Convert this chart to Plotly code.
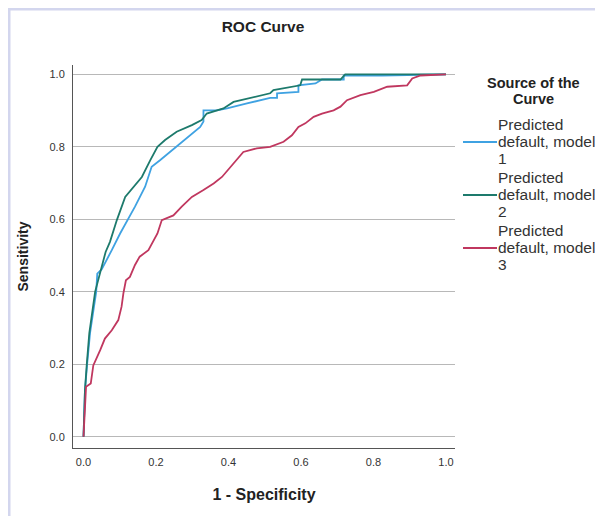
import plotly.graph_objects as go

# ROC data (1 - specificity, sensitivity)
model1_fpr = [0, 0.004, 0.01, 0.018, 0.035, 0.038, 0.05, 0.064, 0.078, 0.101,
              0.142, 0.17, 0.188, 0.211, 0.239, 0.257, 0.28, 0.308, 0.322, 0.331,
              0.331, 0.368, 0.396, 0.451, 0.515, 0.534, 0.534, 0.593, 0.593, 0.64,
              0.658, 0.718, 0.718, 0.824, 1.0]
model1_tpr = [0, 0.128, 0.2, 0.286, 0.4, 0.45, 0.462, 0.488, 0.515, 0.561,
              0.635, 0.69, 0.745, 0.763, 0.786, 0.8, 0.819, 0.842, 0.855, 0.87,
              0.901, 0.901, 0.906, 0.92, 0.935, 0.935, 0.948, 0.952, 0.97, 0.975,
              0.986, 0.986, 0.997, 0.997, 1.0]

model2_fpr = [0, 0.004, 0.009, 0.016, 0.032, 0.047, 0.061, 0.073, 0.092, 0.115,
              0.138, 0.161, 0.184, 0.204, 0.225, 0.257, 0.299, 0.326, 0.34, 0.386,
              0.414, 0.469, 0.515, 0.524, 0.598, 0.603, 0.709, 0.722, 1.0]
model2_tpr = [0, 0.128, 0.2, 0.286, 0.4, 0.455, 0.51, 0.538, 0.598, 0.662,
              0.69, 0.717, 0.763, 0.8, 0.819, 0.842, 0.86, 0.874, 0.892, 0.906,
              0.924, 0.938, 0.948, 0.957, 0.97, 0.986, 0.986, 1.0, 1.0]

model3_fpr = [0, 0.007, 0.02, 0.027, 0.046, 0.059, 0.078, 0.096, 0.105, 0.11,
              0.117, 0.128, 0.142, 0.155, 0.179, 0.184, 0.204, 0.216, 0.248, 0.271,
              0.299, 0.331, 0.359, 0.382, 0.405, 0.428, 0.441, 0.478, 0.515, 0.552,
              0.575, 0.593, 0.612, 0.635, 0.658, 0.69, 0.709, 0.727, 0.764, 0.801,
              0.838, 0.893, 0.907, 0.93, 0.994, 1.0]
model3_tpr = [0, 0.138, 0.147, 0.197, 0.239, 0.271, 0.294, 0.322, 0.359, 0.396,
              0.432, 0.441, 0.474, 0.497, 0.515, 0.524, 0.561, 0.598, 0.611, 0.635,
              0.662, 0.681, 0.699, 0.717, 0.745, 0.773, 0.786, 0.796, 0.8, 0.814,
              0.832, 0.855, 0.865, 0.883, 0.892, 0.901, 0.911, 0.929, 0.943, 0.952,
              0.966, 0.97, 0.989, 0.997, 1.0, 1.0]

series_names = ["Predicted default, model 1",
                "Predicted default, model 2",
                "Predicted default, model 3"]
legend_lines = [["Predicted", "default, model", "1"],
                ["Predicted", "default, model", "2"],
                ["Predicted", "default, model", "3"]]
legend_title_lines = ["Source of the", "Curve"]
series_colors = ["#3fa2e2", "#1d7a6c", "#c0375f"]
tick_vals = [0.0, 0.2, 0.4, 0.6, 0.8, 1.0]
tick_text = ["0.0", "0.2", "0.4", "0.6", "0.8", "1.0"]

FONT = "Liberation Sans, Arial, sans-serif"

fig = go.Figure()
for xs, ys, name, col in zip([model1_fpr, model2_fpr, model3_fpr],
                             [model1_tpr, model2_tpr, model3_tpr],
                             series_names, series_colors):
    fig.add_trace(go.Scatter(x=xs, y=ys, mode="lines", name=name,
                             showlegend=False,
                             line=dict(color=col, width=1.8)))

# the page body has an 8px margin, so layout is computed in page pixels minus 8
OFF = 8
W, H = 603 - OFF, 516 - OFF
PL, PR, PT, PB = 73, 455, 65, 448          # plot area in page pixels
L, R, T, B = PL - OFF, W - (PR - OFF), PT - OFF, H - (PB - OFF)
pw, ph = W - L - R, H - T - B

def px_x(p):
    return (p - OFF - L) / pw

def px_y(p):
    return (H - B - (p - OFF)) / ph

shapes = [
    dict(type="rect", xref="paper", yref="paper",
         x0=px_x(OFF), x1=px_x(OFF + 2.5), y0=px_y(520), y1=px_y(OFF),
         fillcolor="#d3d6ee", line=dict(width=0), layer="below"),
    dict(type="rect", xref="paper", yref="paper",
         x0=px_x(OFF), x1=px_x(610), y0=px_y(OFF + 2.5), y1=px_y(OFF),
         fillcolor="#d3d6ee", line=dict(width=0), layer="below"),
]

annotations = []
# legend (drawn manually to reproduce the tight line spacing)
for i, t in enumerate(legend_title_lines):
    annotations.append(dict(xref="paper", yref="paper", x=px_x(533), y=px_y(83.5 + 15 * i),
                            xanchor="center", yanchor="middle", showarrow=False,
                            text="<b>%s</b>" % t,
                            font=dict(size=14.5, family=FONT, color="#222222")))
item_top = [124, 177, 230]
for k, lines in enumerate(legend_lines):
    for j, t in enumerate(lines):
        annotations.append(dict(xref="paper", yref="paper", x=px_x(496),
                                y=px_y(item_top[k] + 17 * j),
                                xanchor="left", yanchor="middle", showarrow=False,
                                text=t, font=dict(size=15.5, family=FONT, color="#333333")))
    ly = px_y(item_top[k] + 18)
    shapes.append(dict(type="line", xref="paper", yref="paper",
                       x0=px_x(463), x1=px_x(497), y0=ly, y1=ly,
                       line=dict(color=series_colors[k], width=1.8)))

fig.update_layout(
    width=W, height=H,
    margin=dict(l=L, r=R, t=T, b=B, autoexpand=False),
    paper_bgcolor="white", plot_bgcolor="white",
    font=dict(family=FONT, color="#222222", size=12),
    title=dict(text="<b>ROC Curve</b>", xref="container", x=(263 - OFF) / W, xanchor="center",
               yref="container", y=1 - (27 - OFF) / H, yanchor="middle",
               font=dict(size=15.5, family=FONT, color="#222222")),
    xaxis=dict(range=[-0.029, 1.025], tickvals=tick_vals, ticktext=tick_text,
               showgrid=False, zeroline=False, showline=True, automargin=False,
               linecolor="#555555", linewidth=1, ticks="", ticklabelstandoff=4,
               tickfont=dict(size=11, color="#333333"),
               title=dict(text="<b>1 - Specificity</b>", standoff=21,
                          font=dict(size=16, color="#222222"))),
    yaxis=dict(range=[-0.031, 1.026], tickvals=tick_vals, ticktext=tick_text,
               showgrid=True, gridcolor="#b8b8b8", gridwidth=1, automargin=False,
               zeroline=False, showline=True,
               linecolor="#555555", linewidth=1, ticks="", ticklabelstandoff=5,
               tickfont=dict(size=11, color="#333333"),
               title=dict(text="<b>Sensitivity</b>", standoff=17,
                          font=dict(size=14, color="#222222"))),
    shapes=shapes,
    annotations=annotations,
    showlegend=False,
)

fig.write_html("out.html")
